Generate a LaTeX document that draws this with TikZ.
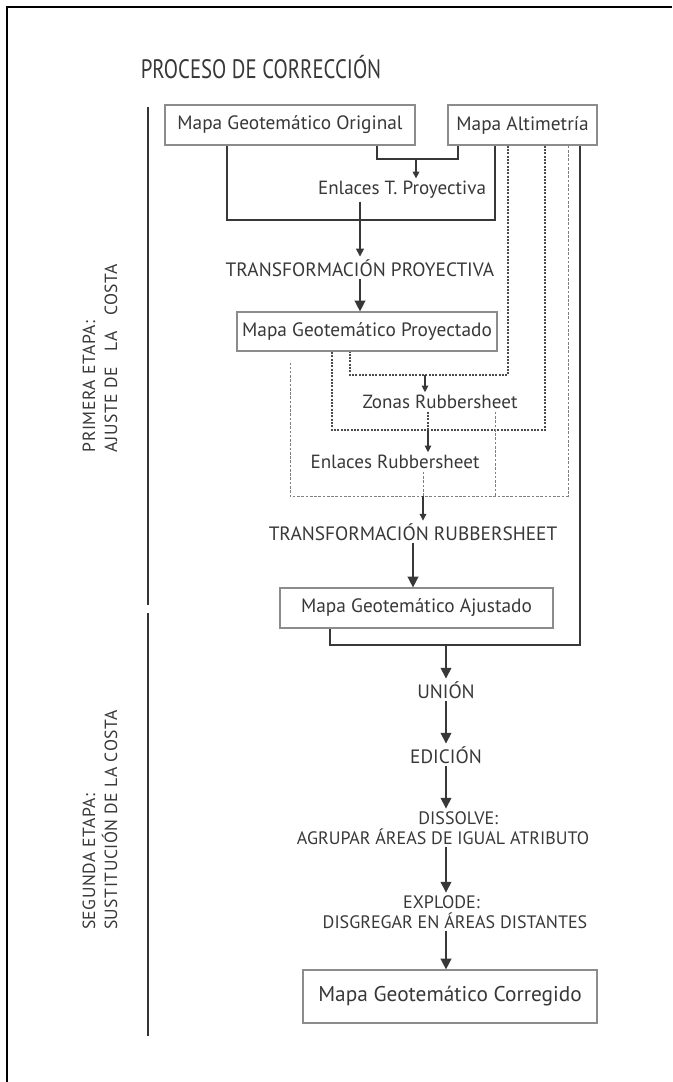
\documentclass[tikz,border=0pt]{standalone}
\usepackage{fontspec}
\setmainfont{PT Sans}
\newfontfamily\titlefont{PT Sans}[FakeStretch=0.78]
\newfontfamily\etapafont{PT Sans}[LetterSpace=3]
\usetikzlibrary{arrows.meta}
\definecolor{box gray}{rgb}{0.55,0.55,0.55}
\definecolor{ink}{rgb}{0.22,0.22,0.22}

\begin{document}
\begin{tikzpicture}[x=0.75pt, y=-0.75pt,
		mapa/.style={draw=box gray, line width=0.9pt, minimum height=30pt, inner sep=0pt,
			text=ink, font=\fontsize{14.5}{16}\selectfont},
		paso/.style={text=ink, inner sep=2pt, font=\fontsize{14.3}{16}\selectfont},
		pasomay/.style={text=ink, inner sep=2pt, font=\fontsize{14.5}{16}\selectfont},
		pasodos/.style={text=ink, inner sep=2pt, align=center, font=\fontsize{13.5}{15}\selectfont},
		etapa/.style={text=ink, rotate=90, align=left, font=\etapafont\fontsize{13.2}{16.5}\selectfont},
		linea/.style={ink, line width=1.1pt},
		barra/.style={black!80, line width=2pt},
		punteada/.style={ink!90, line width=0.8pt, dash pattern=on 1.5pt off 1pt},
		fina/.style={gray, line width=0.6pt, dash pattern=on 2pt off 1.2pt},
		flecha/.style={ink, line width=1.1pt, -{Triangle[width=8pt,length=8pt]}},
		flechita/.style={ink, line width=0.8pt, -{Triangle[width=5pt,length=5pt]}}]
		\useasboundingbox (0,0) rectangle (672,1082);
		% frame
		\draw[line width=0.8pt] (672,7) -- (7,7) -- (7,1082);
		\node[text=ink, font=\titlefont\fontsize{20}{22}\selectfont] (titulo) at (261,67) {PROCESO DE CORRECCIÓN};
		% stages
		\draw[barra] (148,107) -- (148,605);
		\draw[barra] (148,613) -- (148,1036);
		\node[etapa] (etapa1) at (100,358) {PRIMERA ETAPA:\\AJUSTE DE\hspace{0.6em} LA\hspace{0.6em} COSTA};
		\node[etapa] (etapa2) at (100,820) {SEGUNDA ETAPA:\\SUSTITUCIÓN DE LA COSTA};
		% maps
		\node[mapa, minimum width=187.5pt] (orig) at (290,125) {Mapa Geotemático Original};
		\node[mapa, minimum width=111.75pt] (alti) at (522.5,125) {Mapa Altimetría};
		\node[mapa, minimum width=195pt, minimum height=29.25pt] (proy) at (367,331.5) {Mapa Geotemático Proyectado};
		\node[mapa, minimum width=204.75pt] (ajus) at (416.5,608) {Mapa Geotemático Ajustado};
		\node[mapa, minimum width=220.5pt, minimum height=39.75pt, font=\fontsize{16}{18}\selectfont] (corr) at (450,996.5) {Mapa Geotemático Corregido};
		% steps
		\node[paso] (enlT) at (402,190) {Enlaces T. Proyectiva};
		\node[pasomay] (transP) at (360,268) {TRANSFORMACIÓN PROYECTIVA};
		\node[paso] (zonas) at (440,402) {Zonas Rubbersheet};
		\node[paso] (enlR) at (395,462) {Enlaces Rubbersheet};
		\node[pasomay] (transR) at (413,532) {TRANSFORMACIÓN RUBBERSHEET};
		\node[pasomay] (union) at (446,690) {UNIÓN};
		\node[pasomay] (edic) at (446,755) {EDICIÓN};
		\node[pasodos] (dissolve) at (443,828) {\hspace*{1.7em}DISSOLVE:\\AGRUPAR ÁREAS DE IGUAL ATRIBUTO};
		\node[pasodos] (explode) at (455,912) {EXPLODE:\hspace*{1.5em}\\DISGREGAR EN ÁREAS DISTANTES};
		% part for projective transformation
		\coordinate (e1) at (377,159);
		\coordinate (e2) at (458,159);
		\coordinate (e3) at (416,159);
		\draw[linea] (e1 |- orig.south) -- (e1) -- (e2) -- (e2 |- alti.south);
		\draw[flechita] (e3) -- (e3 |- enlT.north);
		\coordinate (p1) at (227,220);
		\coordinate (p2) at (495,220);
		\draw[linea] (p1 |- orig.south) -- (p1) -- (p2) -- (p2 |- alti.south);
		\draw[flecha, -{Triangle[width=6pt,length=6pt]}] (enlT.south -| transP.north) -- (transP.north);
		\draw[flecha] (transP.south) -- (transP.south |- proy.north);
		% part for rubbersheet
		\coordinate (z1) at (508,375);
		\coordinate (z2) at (350,375);
		\coordinate (z3) at (425,375);
		\draw[punteada] (z1 |- alti.south) -- (z1) -- (z2) -- (z2 |- proy.south);
		\draw[flechita] (z3) -- (z3 |- zonas.north);
		\coordinate (r1) at (545,430);
		\coordinate (r2) at (332,430);
		\coordinate (r3) at (428,430);
		\draw[punteada] (r1 |- alti.south) -- (r1) -- (r2) -- (r2 |- proy.south);
		\draw[punteada] (zonas.south -| r3) -- (r3);
		\draw[flechita] (r3) -- (r3 |- enlR.north);
		\coordinate (s0) at (290,363);
		\coordinate (s1) at (568,496);
		\coordinate (s2) at (290,496);
		\coordinate (s3) at (495,496);
		\coordinate (s4) at (423,496);
		\draw[fina] (s1 |- alti.south) -- (s1) -- (s2) -- (s0);
		\draw[fina] (zonas.south -| s3) -- (s3);
		\draw[fina] (enlR.south -| s4) -- (s4);
		\draw[flechita] (s4) -- (s4 |- transR.north);
		\draw[flecha] (transR.south) -- (transR.south |- ajus.north);
		% part for union and edition
		\coordinate (u1) at (580,645);
		\coordinate (u2) at (330,645);
		\coordinate (u3) at (446,645);
		\draw[linea] (u1 |- alti.south) -- (u1) -- (u2) -- (u2 |- ajus.south);
		\draw[flecha] (u3) -- (union.north);
		\draw[flecha] (union.south) -- (edic.north);
		\draw[flecha] (edic.south) -- (edic.south |- dissolve.north);
		\draw[flecha] (dissolve.south -| edic) -- (explode.north -| edic);
		\draw[flecha] (explode.south -| edic) -- (corr.north -| edic);
	\end{tikzpicture}
\end{document}
